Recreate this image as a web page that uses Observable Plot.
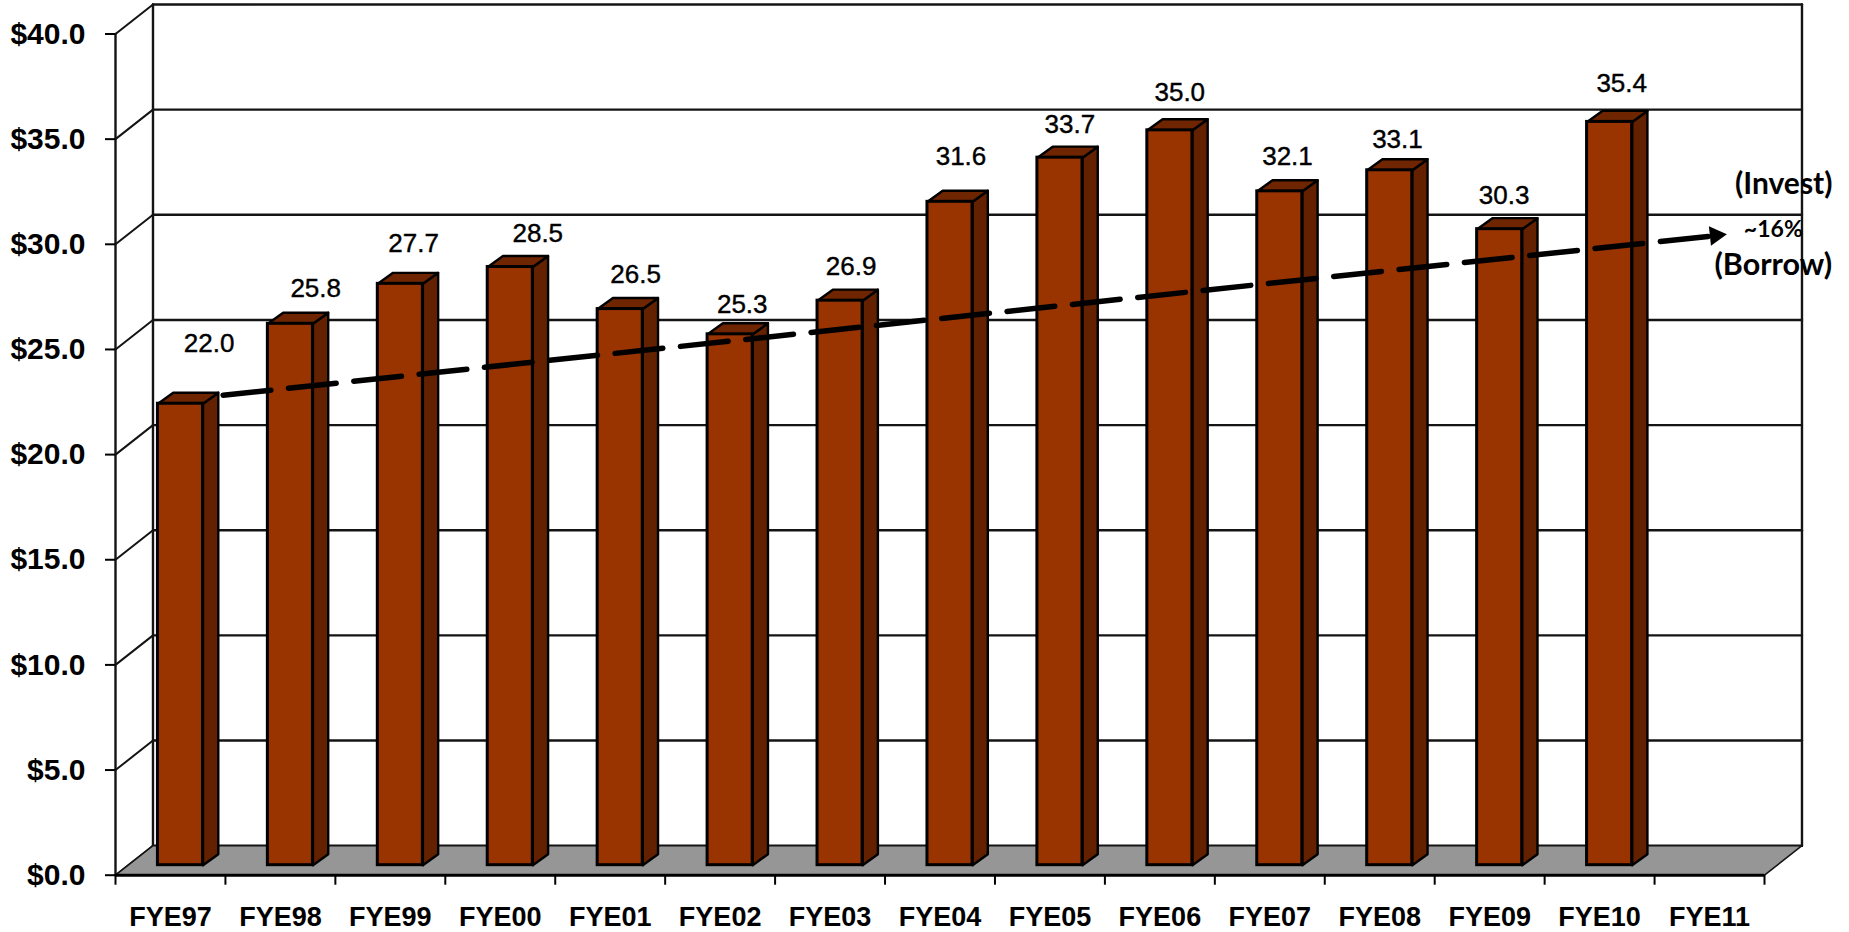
<!DOCTYPE html>
<html>
<head>
<meta charset="utf-8">
<style>html,body{margin:0;padding:0;background:#fff;overflow:hidden}svg{display:block}</style>
<script src="https://cdn.jsdelivr.net/npm/d3@7"></script>
<script src="https://cdn.jsdelivr.net/npm/@observablehq/plot@0.6"></script>
</head>
<body>
<div id="chart"></div>
<script>
const categories = ["FYE97","FYE98","FYE99","FYE00","FYE01","FYE02","FYE03","FYE04","FYE05","FYE06","FYE07","FYE08","FYE09","FYE10","FYE11"];
const values = [22.0,25.8,27.7,28.5,26.5,25.3,26.9,31.6,33.7,35.0,32.1,33.1,30.3,35.4,null];
const valueTicks = [0,5,10,15,20,25,30,35,40];
// where each hand-placed value label sits relative to its bar (category units, dollars)
const labelShift = [0.26,0.23,0.12,0.25,0.14,0.11,0.10,0.10,0.09,0.09,0.07,0.07,0.04,0.11];
const labelLift  = [2.85,1.65,1.9,1.6,1.65,1.4,1.6,2.15,1.55,1.8,1.65,1.45,1.6,1.8];
const trendFrom = {at: 0.979, value: 22.82};
const trendTo   = {at: 14.50, value: 30.38};
const arrowTip  = {at: 14.555, value: 30.42};

// depth of the box and of each bar, in scale units
const wallX = 0.341, wallY = 1.403;
const barW = 0.41, barOffX = 0.386, barOffY = 0.476, barTopOffY = 0.42, barDepX = 0.139, barDepY = 0.523;

const bars = categories.map((c,i)=>({c,i,v:values[i],x1:i+barOffX,x2:i+barOffX+barW,y1:barOffY,y2:values[i]==null?null:values[i]+barTopOffY,
  shift:labelShift[i],lift:labelLift[i]})).filter(d=>d.v!=null);

const poly = (id, pts) => pts.map(([x,y])=>({id,x,y}));
const sides = bars.flatMap(b=>poly(b.c,[[b.x2,b.y1],[b.x2+barDepX,b.y1+barDepY],[b.x2+barDepX,b.y2+barDepY],[b.x2,b.y2]]));
const tops  = bars.flatMap(b=>poly(b.c,[[b.x1,b.y2],[b.x1+barDepX,b.y2+barDepY],[b.x2+barDepX,b.y2+barDepY],[b.x2,b.y2]]));
const floor = poly("floor",[[0,0],[wallX,wallY],[15+wallX,wallY],[15,0]]);
const diagonals = valueTicks.flatMap(v=>poly(v,[[0,v],[wallX,v+wallY]]));
const verticals = [...poly("a",[[0,0],[0,40]]),...poly("b",[[wallX,wallY],[wallX,40+wallY]]),...poly("c",[[15+wallX,wallY],[15+wallX,40+wallY]])];
const backGrid = valueTicks.flatMap(v=>poly(v,[[wallX,v+wallY],[15+wallX,v+wallY]]));
const ink = "#141414";

const chart = Plot.plot({
  width: 1849, height: 932,
  marginLeft: 115, marginRight: 85, marginTop: 33.5, marginBottom: 57.3,
  style: {fontFamily: "'Liberation Sans', Arial, sans-serif", background: "#fff", color: "#000"},
  x: {domain: [0,15]},
  y: {domain: [0,40]},
  marks: [
    Plot.line(backGrid, {x:"x", y:"y", z:"id", stroke:ink, strokeWidth:2.4}),
    Plot.line(verticals, {x:"x", y:"y", z:"id", stroke:ink, strokeWidth:2.4}),
    Plot.line(diagonals, {x:"x", y:"y", z:"id", stroke:ink, strokeWidth:2}),
    Plot.line(floor, {x:"x", y:"y", z:"id", curve:"linear-closed", fill:"#969696", stroke:ink, strokeWidth:1.5}),
    Plot.ruleY([0], {stroke:"#000", strokeWidth:3}),
    Plot.line(sides, {x:"x", y:"y", z:"id", curve:"linear-closed", fill:"#642100", stroke:"#000", strokeWidth:2.4, strokeLinejoin:"round"}),
    Plot.line(tops, {x:"x", y:"y", z:"id", curve:"linear-closed", fill:"#6e2500", stroke:"#000", strokeWidth:2.4, strokeLinejoin:"round"}),
    Plot.rect(bars, {x1:"x1", x2:"x2", y1:"y1", y2:"y2", fill:"#993300", stroke:"#000", strokeWidth:3}),
    Plot.line([trendFrom,trendTo], {x:"at", y:"value", stroke:"#000", strokeWidth:5.5, strokeDasharray:"48 17.7"}),
    Plot.dot([arrowTip], {x:"at", y:"value", symbol:"triangle", r:7.3, fill:"#000", stroke:"none", rotate:84}),
    Plot.text(bars, {x:d=>d.x1+barW/2+d.shift, y:d=>d.y2+d.lift, text:d=>d.v.toFixed(1), fontSize:26, fill:"#000", stroke:"#000", strokeWidth:0.4}),
    Plot.axisY({ticks:valueTicks, tickSize:10, tickPadding:20, tickFormat:d=>"$"+d.toFixed(1), fontSize:30, fontWeight:"bold", strokeWidth:2, label:null}),
    Plot.axisX({ticks:d3.range(16), tickSize:10, tickFormat:()=>"", strokeWidth:2, label:null}),
    Plot.axisX({ticks:categories.map((_,i)=>i+0.5), tickSize:0, tickPadding:32, tickFormat:d=>categories[d-0.5], fontSize:27, fontWeight:"bold", label:null}),
    Plot.text([{t:"(Invest)",at:15.175,v:32.85,s:30},{t:"~16%",at:15.08,v:30.7,s:23},{t:"(Borrow)",at:15.08,v:29.0,s:30.5}],
      {x:"at", y:"v", text:"t", fontSize:"s", fontWeight:"bold", fontFamily:"Lato, 'Open Sans', sans-serif", fill:"#000"})
  ]
});
document.getElementById("chart").append(chart);
</script>
</body>
</html>
